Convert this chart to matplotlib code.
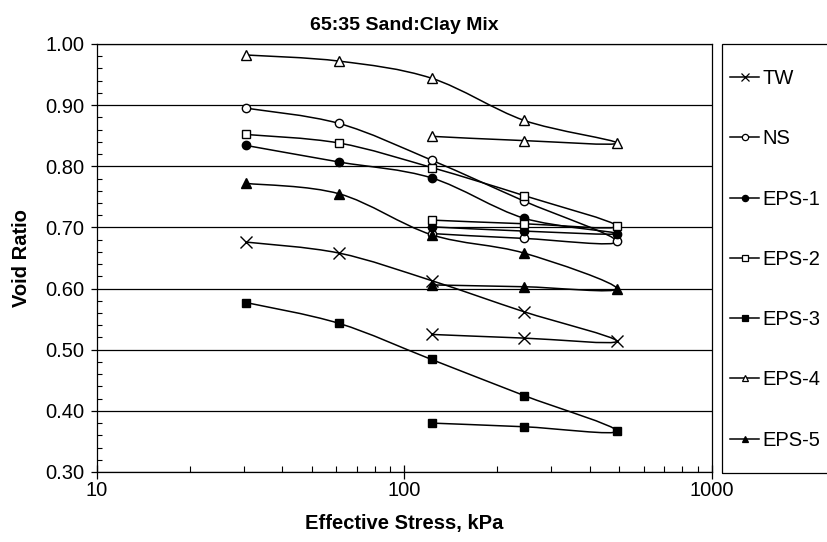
import numpy as np
import matplotlib
matplotlib.use("Agg")
import matplotlib.pyplot as plt
from matplotlib.path import Path
from matplotlib.patches import PathPatch, Rectangle
from matplotlib.lines import Line2D
from matplotlib.ticker import LogLocator, MultipleLocator, FormatStrFormatter, FixedLocator, NullFormatter

plt.rcParams['font.family'] = ['Liberation Sans', 'DejaVu Sans']

# Data: loading (30.6 -> 490 kPa) then unloading (490 -> 122.5 kPa)
stress = [30.6, 61.3, 122.5, 245, 490, 245, 122.5]
series_names = ["TW", "NS", "EPS-1", "EPS-2", "EPS-3", "EPS-4", "EPS-5"]
TW = [0.676, 0.658, 0.613, 0.562, 0.514, 0.519, 0.525]
NS = [0.895, 0.870, 0.810, 0.743, 0.677, 0.682, 0.690]
EPS1 = [0.834, 0.807, 0.781, 0.715, 0.690, 0.694, 0.701]
EPS2 = [0.852, 0.838, 0.798, 0.752, 0.702, 0.706, 0.712]
EPS3 = [0.577, 0.543, 0.484, 0.425, 0.367, 0.374, 0.380]
EPS4 = [0.982, 0.972, 0.944, 0.875, 0.838, 0.842, 0.849]
EPS5 = [0.772, 0.755, 0.688, 0.658, 0.600, 0.603, 0.606]
series_values = [TW, NS, EPS1, EPS2, EPS3, EPS4, EPS5]

# marker styles: (marker, facecolor, size)
styles = [("x", "black", 8), ("o", "white", 6), ("o", "black", 6),
          ("s", "white", 6), ("s", "black", 6), ("^", "white", 6.5), ("^", "black", 6.5)]

fig = plt.figure(figsize=(8.28, 5.42), dpi=100)
ax = fig.add_axes([97/828, 1-472/542, (712-97)/828, (472-44)/542])


def smooth_path(xs, ys):
    """Excel-style smoothed line: cubic Bezier through the points, built in log-x space."""
    lx = np.log10(np.asarray(xs, float))
    yy = np.asarray(ys, float)
    pts = np.column_stack([lx, yy])
    n = len(pts)
    verts = [pts[0]]
    codes = [Path.MOVETO]
    for i in range(n - 1):
        p0 = pts[i - 1] if i > 0 else pts[i]
        p1 = pts[i]
        p2 = pts[i + 1]
        p3 = pts[i + 2] if i + 2 < n else pts[i + 1]
        c1 = p1 + (p2 - p0) / 6.0
        c2 = p2 - (p3 - p1) / 6.0
        verts += [c1, c2, p2]
        codes += [Path.CURVE4] * 3
    verts = np.array(verts)
    verts[:, 0] = 10 ** verts[:, 0]
    return Path(verts, codes)


handles = []
for name, vals, (mk, fc, ms) in zip(series_names, series_values, styles):
    patch = PathPatch(smooth_path(stress, vals), fill=False, edgecolor="black",
                      linewidth=1.1, zorder=3)
    ax.add_patch(patch)
    ax.plot(stress, vals, linestyle="none", marker=mk, markersize=ms,
            markerfacecolor=fc, markeredgecolor="black", markeredgewidth=1.0,
            zorder=4)
    handles.append(Line2D([], [], color="black", linewidth=1.1, marker=mk,
                          markersize=ms * 0.75, markerfacecolor=fc,
                          markeredgecolor="black", markeredgewidth=0.9, label=name))

ax.set_xscale("log")
ax.set_xlim(10, 1000)
ax.set_ylim(0.30, 1.00)

ax.yaxis.set_major_locator(MultipleLocator(0.1))
ax.yaxis.set_minor_locator(MultipleLocator(0.02))
ax.yaxis.set_major_formatter(FormatStrFormatter("%.2f"))
ax.xaxis.set_major_locator(FixedLocator([10, 100, 1000]))
ax.xaxis.set_major_formatter(FormatStrFormatter("%d"))
ax.xaxis.set_minor_locator(LogLocator(base=10, subs=np.arange(2, 10)))
ax.xaxis.set_minor_formatter(NullFormatter())

ax.grid(axis="y", which="major", color="black", linewidth=0.9)
ax.set_axisbelow(True)

ax.tick_params(axis="y", which="major", direction="out", length=4.3, width=0.9,
               labelsize=14.5, pad=5)
ax.tick_params(axis="y", which="minor", direction="in", length=3.6, width=0.8)
ax.tick_params(axis="x", which="major", direction="inout", length=9.4, width=0.9,
               labelsize=14.5, pad=2)
ax.tick_params(axis="x", which="minor", direction="in", length=4.3, width=0.8)

for sp in ax.spines.values():
    sp.set_color("black")
    sp.set_linewidth(0.9)

ax.set_title("65:35 Sand:Clay Mix", fontsize=14, fontweight="bold", pad=10)
ax.set_xlabel("Effective Stress, kPa", fontsize=14.5, fontweight="bold", labelpad=10)
ax.set_ylabel("Void Ratio", fontsize=14.5, fontweight="bold", labelpad=10)

# legend frame (open on the right, running off the figure edge)
fig.patches.append(Rectangle((722/828, 1-473/542), 0.2, (473-44)/542,
                             transform=fig.transFigure, fill=False,
                             edgecolor="black", linewidth=0.9))

leg = fig.legend(handles=handles, loc="upper left",
                 bbox_to_anchor=(730/828, 1-69/542),
                 borderaxespad=0, borderpad=0, frameon=False,
                 fontsize=14.5, handlelength=1.45, handletextpad=0.15,
                 labelspacing=2.05)

fig.savefig("out.png", dpi=100)
